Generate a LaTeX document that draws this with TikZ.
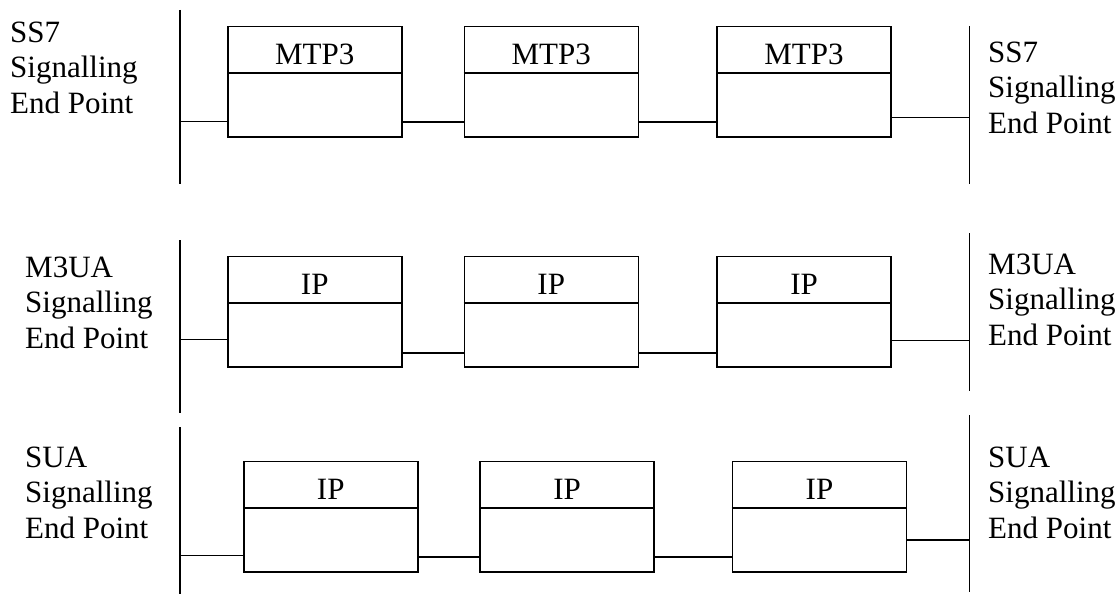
\documentclass[tikz,border=0pt]{standalone}
\usepackage{fontspec}
\setmainfont{Liberation Serif}
\begin{document}
\begin{tikzpicture}[x=1pt,y=-1pt,
  wire/.style={line width=1.5pt},
  pbox/.style={draw, line width=1.5pt, minimum width=174pt, minimum height=110.6pt, inner sep=0pt, anchor=north west},
  lbl/.style={font=\fontsize{31}{35.5}\selectfont, inner sep=0pt},
  side/.style={lbl, align=left, anchor=north west}]
\useasboundingbox (0,0) rectangle (1119,594);
\newcommand\protobox[4]{%
  \node[pbox] (#1) at (#2,#3) {};
  \draw[wire] ([yshift=-47.5pt]#1.north west) -- ([yshift=-47.5pt]#1.north east);
  \node[lbl, anchor=base] (#1t) at ([yshift=-38.5pt]#1.north) {#4};
}
% row 1
\protobox{a1}{227}{25.7}{MTP3}
\protobox{a2}{463.5}{25.7}{MTP3}
\protobox{a3}{716.3}{25.7}{MTP3}
% row 2
\protobox{b1}{227}{255.7}{IP}
\protobox{b2}{463.5}{255.7}{IP}
\protobox{b3}{716.3}{255.7}{IP}
% row 3
\protobox{c1}{243}{460.7}{IP}
\protobox{c2}{479.3}{460.7}{IP}
\protobox{c3}{731.7}{460.7}{IP}

% vertical lines
\coordinate (la1) at (180,10);   \coordinate (lb1) at (180,184);
\coordinate (ra1) at (969.5,26); \coordinate (rb1) at (969.5,184);
\coordinate (la2) at (180,240);  \coordinate (lb2) at (180,413);
\coordinate (ra2) at (969.5,233); \coordinate (rb2) at (969.5,391);
\coordinate (la3) at (180,427);  \coordinate (lb3) at (180,594);
\coordinate (ra3) at (969.5,415); \coordinate (rb3) at (969.5,592);
\draw[wire] (la1) -- (lb1);
\draw[wire] (ra1) -- (rb1);
\draw[wire] (la2) -- (lb2);
\draw[wire] (ra2) -- (rb2);
\draw[wire] (la3) -- (lb3);
\draw[wire] (ra3) -- (rb3);

% connectors row 1
\coordinate (p1) at (180,121.7);
\coordinate (q1) at (969.5,117.3);
\draw[wire] (p1) -- (p1 -| a1.west);
\draw[wire] ([yshift=15.6pt]a1.south east) -- ([yshift=15.6pt]a1.south east -| a2.west);
\draw[wire] ([yshift=15.6pt]a2.south east) -- ([yshift=15.6pt]a2.south east -| a3.west);
\draw[wire] (q1 -| a3.east) -- (q1);
% connectors row 2
\coordinate (p2) at (180,339.3);
\coordinate (q2) at (969.5,340.7);
\draw[wire] (p2) -- (p2 -| b1.west);
\draw[wire] ([yshift=15pt]b1.south east) -- ([yshift=15pt]b1.south east -| b2.west);
\draw[wire] ([yshift=15pt]b2.south east) -- ([yshift=15pt]b2.south east -| b3.west);
\draw[wire] (q2 -| b3.east) -- (q2);
% connectors row 3
\coordinate (p3) at (180,555.7);
\coordinate (q3) at (969.5,540);
\draw[wire] (p3) -- (p3 -| c1.west);
\draw[wire] ([yshift=16pt]c1.south east) -- ([yshift=16pt]c1.south east -| c2.west);
\draw[wire] ([yshift=16pt]c2.south east) -- ([yshift=16pt]c2.south east -| c3.west);
\draw[wire] (q3 -| c3.east) -- (q3);

% side labels
\node[side] (l1) at (10,21.7) {SS7\\Signalling\\End Point};
\node[side] (r1) at (988,41.7) {SS7\\Signalling\\End Point};
\node[side] (l2) at (25,256.7) {M3UA\\Signalling\\End Point};
\node[side] (r2) at (988,253.3) {M3UA\\Signalling\\End Point};
\node[side] (l3) at (25,446.7) {SUA\\Signalling\\End Point};
\node[side] (r3) at (988,446.7) {SUA\\Signalling\\End Point};
\end{tikzpicture}
\end{document}
